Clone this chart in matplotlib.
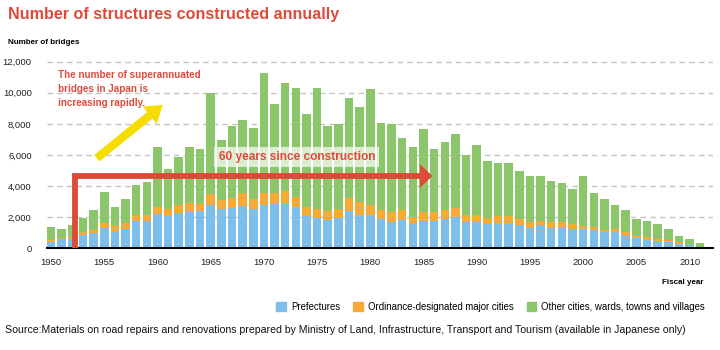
import matplotlib
matplotlib.use('Agg')
import matplotlib.pyplot as plt
from matplotlib.patches import FancyArrowPatch, Patch

# fiscal years shown on the x axis
years = list(range(1950, 2012))

# bridges built per year
prefectures = [420, 600, 600, 860, 960, 1310, 1090, 1260, 1730, 1730,
               2180, 2060, 2270, 2330, 2400, 2760, 2550, 2570, 2700, 2550,
               2800, 2830, 2890, 2630, 2060, 1970, 1820, 1970, 2420, 2140,
               2140, 1860, 1690, 1820, 1630, 1780, 1760, 1860, 1990, 1690,
               1690, 1550, 1610, 1610, 1520, 1310, 1480, 1310, 1310, 1260,
               1240, 1180, 1050, 1050, 860, 640, 540, 490, 390, 280,
               220, 0]
designated = [100, 85, 150, 170, 200, 300, 340, 350, 430, 430,
              450, 490, 530, 560, 470, 730, 580, 660, 830, 640,
              770, 700, 770, 650, 620, 580, 600, 580, 790, 860,
              640, 600, 620, 620, 400, 530, 550, 580, 580, 450,
              450, 380, 450, 450, 390, 380, 300, 380, 380, 300,
              170, 210, 150, 190, 190, 200, 210, 110, 150, 100,
              20, 0]
others = [830, 575, 740, 940, 1300, 2030, 1200, 1580, 1910, 2080,
          3880, 2570, 3050, 3640, 3510, 6490, 3830, 4630, 4740, 4560,
          7720, 5760, 6940, 7020, 5950, 7770, 5420, 5440, 6430, 6060,
          7460, 5630, 5660, 4630, 4500, 5330, 4070, 4410, 4770, 3880,
          4500, 3680, 3400, 3400, 3060, 2960, 2870, 2610, 2530, 2270,
          3240, 2190, 1950, 1570, 1410, 1020, 1030, 960, 670, 410,
          360, 320]

series_names = ['Prefectures', 'Ordinance-designated major cities',
                'Other cities, wards, towns and villages']
yticks = [0, 2000, 4000, 6000, 8000, 10000, 12000]
xticks = [1950, 1955, 1960, 1965, 1970, 1975, 1980, 1985, 1990, 1995, 2000, 2005, 2010]

blue = '#7dbfea'
orange = '#f7aa38'
green = '#8cc66b'
red = '#e04a3a'
arrow_red = '#db4b38'
yellow = '#f7dc00'

plt.rcParams['font.family'] = ['Liberation Sans', 'DejaVu Sans']

W, H = 720.0, 350.0
def fx(px):
    return px / W
def fy(py):
    return 1 - py / H

fig = plt.figure(figsize=(7.2, 3.5), dpi=100)
base, top = 248.3, 61.7
ax = fig.add_axes([fx(47), fy(base), fx(713 - 47), (base - top) / H * 12300 / 12000])

bottom2 = [a + b for a, b in zip(prefectures, designated)]
ax.bar(years, prefectures, width=0.8, color=blue, zorder=2)
ax.bar(years, designated, width=0.8, bottom=prefectures, color=orange, zorder=2)
ax.bar(years, others, width=0.8, bottom=bottom2, color=green, zorder=2)

ax.set_xlim(1949.62, 2012.2)
ax.set_ylim(0, 12300)
ax.set_yticks(yticks)
ax.set_yticklabels(['{:,}'.format(v) for v in yticks])
ax.set_xticks(xticks)
ax.yaxis.grid(True, linestyle=(0, (4, 3)), color='#c4c4c4', lw=1)
ax.set_axisbelow(True)
for s in ['top', 'right', 'left']:
    ax.spines[s].set_visible(False)
ax.spines['bottom'].set_color('black')
ax.spines['bottom'].set_linewidth(1.5)
ax.spines['bottom'].set_zorder(3)
ax.tick_params(axis='both', length=0, labelsize=6.8, colors='#222222')
ax.tick_params(axis='y', pad=11)
ax.tick_params(axis='x', pad=7)

# red "60 years" arrow
ax.plot([1952.25, 1952.25, 1984.5], [0, 4650, 4650], color=arrow_red, lw=4.2,
        solid_joinstyle='miter', solid_capstyle='butt', zorder=4)
ax.add_patch(FancyArrowPatch((1984, 4650), (1986.1, 4650),
                             arrowstyle='simple,tail_width=0.43,head_width=1.7,head_length=0.9',
                             mutation_scale=10, color=arrow_red, lw=0, zorder=4))
ax.text(1973.1, 5870, '60 years since construction', color=red, fontsize=8.6,
        fontweight='bold', ha='center', va='center', zorder=5,
        bbox=dict(boxstyle='square,pad=0.35', fc='white', ec='none', alpha=0.7))

# yellow arrow
ax.add_patch(FancyArrowPatch((1954.1, 5680), (1960.7, 9340),
                             arrowstyle='simple,tail_width=0.6,head_width=1.6,head_length=1.2',
                             mutation_scale=10, color=yellow, lw=0, zorder=4))

fig.text(fx(58), fy(70), 'The number of superannuated\nbridges in Japan is\nincreasing rapidly.',
         color=red, fontsize=7.1, fontweight='bold', ha='left', va='top', linespacing=1.5)

fig.text(fx(8), fy(14), 'Number of structures constructed annually', color=red,
         fontsize=11.6, fontweight='bold', ha='left', va='center')
fig.text(fx(8), fy(43), 'Number of bridges', fontsize=5.8, fontweight='bold', ha='left', va='center')
fig.text(fx(703), fy(283), 'Fiscal year', fontsize=5.8, fontweight='bold', ha='right', va='center')

handles = [Patch(color=c) for c in [blue, orange, green]]
fig.legend(handles, series_names, loc='center right', bbox_to_anchor=(fx(705), fy(306.7)),
           ncol=3, frameon=False, fontsize=6.9, handlelength=1.0, handleheight=1.0,
           handletextpad=0.5, columnspacing=1.4, borderaxespad=0, borderpad=0)

fig.text(fx(5), fy(330), 'Source:Materials on road repairs and renovations prepared by Ministry of Land, '
         'Infrastructure, Transport and Tourism (available in Japanese only)',
         fontsize=7.6, ha='left', va='center', color='#111111')

fig.savefig('out.png', dpi=100)
